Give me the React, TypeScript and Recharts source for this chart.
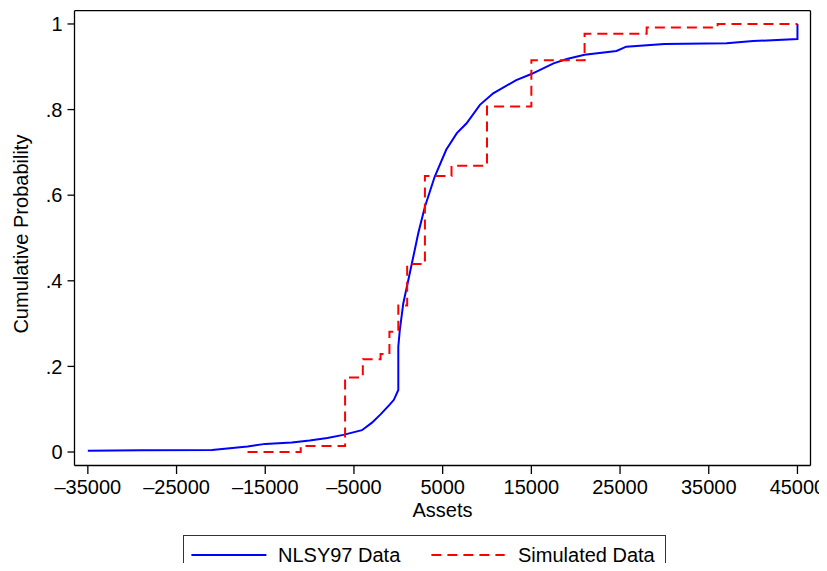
import React from 'react';
import { LineChart, Line, XAxis, YAxis, Legend, Label, ReferenceLine } from 'recharts';

// NLSY97 empirical CDF (assets, cumulative probability)
const nlsyAssets = [-35000, -29000, -21000, -19000, -17000, -15000, -12000, -10000, -8000, -6200, -4100, -3000, -2000, -1000, -500, 0, 0, 170, 560, 1130, 1690, 2250, 3000, 4100, 5400, 6600, 7700, 9200, 10700, 13300, 15000, 17500, 19000, 21000, 24600, 25700, 30000, 37000, 40000, 45000, 45000];
const nlsyProb = [0.003, 0.004, 0.005, 0.009, 0.013, 0.019, 0.022, 0.027, 0.033, 0.040, 0.051, 0.068, 0.088, 0.110, 0.122, 0.145, 0.246, 0.285, 0.347, 0.402, 0.456, 0.511, 0.573, 0.643, 0.706, 0.745, 0.768, 0.811, 0.838, 0.869, 0.883, 0.908, 0.918, 0.928, 0.937, 0.947, 0.953, 0.955, 0.960, 0.965, 1.0];

// Simulated step CDF
const simAssets = [-17000, -11000, -6000, -4000, -2000, -1000, 0, 1000, 3000, 6000, 10000, 15000, 21000, 28000, 36000, 45000];
const simProb = [0, 0.014, 0.174, 0.217, 0.229, 0.281, 0.342, 0.439, 0.645, 0.669, 0.807, 0.915, 0.977, 0.992, 1.0, 1.0];

const xTicks = [-35000, -25000, -15000, -5000, 5000, 15000, 25000, 35000, 45000];
const yTicks = [0, 0.2, 0.4, 0.6, 0.8, 1];
const xDomain = [-36505, 46471];
const yDomain = [-0.0315, 1.031];

const nlsyData = nlsyAssets.map((x, i) => ({ x, y: nlsyProb[i] }));
const simData = simAssets.map((x, i) => ({ x, y: simProb[i] }));

const fmtX = (v: number) => (v < 0 ? '\u2013' + Math.abs(v) : String(v));
const fmtY = (v: number) => (v === 0 ? '0' : v === 1 ? '1' : String(Math.round(v * 10) / 10).replace(/^0/, ''));

const FONT = 'Liberation Sans, Arial, Helvetica, sans-serif';

const LegendBox = () => (
  <svg width={483} height={36} style={{ display: 'block' }}>
    <rect x={0.5} y={0.5} width={482} height={60} fill="#fff" stroke="#333" strokeWidth={1} />
    <line x1={8.4} x2={83.4} y1={20} y2={20} stroke="#0000ff" strokeWidth={2} />
    <text x={95} y={27} fontSize={20} fill="#000" fontFamily={FONT}>NLSY97 Data</text>
    <line x1={248.4} x2={321.7} y1={20} y2={20} stroke="#ff0000" strokeWidth={2} strokeDasharray="10 6" />
    <text x={335} y={27} fontSize={20} fill="#000" fontFamily={FONT}>Simulated Data</text>
  </svg>
);

export default function App() {
  return (
    <div style={{ margin: -8, width: 827, height: 571, overflow: 'hidden', fontFamily: FONT, background: '#fff', position: 'relative' }}>
      <LineChart width={827} height={571} margin={{ top: 10.7, right: 16.5, left: 0, bottom: 0 }}>
        <XAxis
          xAxisId="main"
          type="number"
          dataKey="x"
          domain={xDomain}
          ticks={xTicks}
          tickFormatter={fmtX}
          interval={0}
          allowDataOverflow
          height={105.5}
          tickSize={8.5}
          tickMargin={6}
          stroke="#000"
          strokeWidth={1.3}
          tick={{ fontSize: 20, fill: '#000', fontFamily: FONT }}
          tickLine={{ stroke: '#000' }}
        >
          <Label value="Assets" position="insideBottom" offset={54} style={{ fontSize: 20, fill: '#000', fontFamily: FONT }} />
        </XAxis>
        <YAxis
          yAxisId="main"
          type="number"
          domain={yDomain}
          ticks={yTicks}
          tickFormatter={fmtY}
          interval={0}
          allowDataOverflow
          width={74.5}
          tickSize={7}
          tickMargin={5}
          stroke="#000"
          strokeWidth={1.3}
          tick={{ fontSize: 20, fill: '#000', fontFamily: FONT }}
          tickLine={{ stroke: '#000' }}
        >
          <Label
            content={({ viewBox }: any) => {
              const cx = 21;
              const cy = viewBox.y + viewBox.height / 2 - 4;
              return (
                <text x={cx} y={cy} transform={`rotate(-90 ${cx} ${cy})`} textAnchor="middle" dominantBaseline="central" fontSize={20} fill="#000" fontFamily={FONT}>
                  Cumulative Probability
                </text>
              );
            }}
          />
        </YAxis>
        <ReferenceLine xAxisId="main" yAxisId="main" y={yDomain[1]} stroke="#000" strokeWidth={1.3} ifOverflow="visible" />
        <ReferenceLine xAxisId="main" yAxisId="main" x={xDomain[1]} stroke="#000" strokeWidth={1.3} ifOverflow="visible" />
        <Line
          xAxisId="main"
          yAxisId="main"
          data={nlsyData}
          dataKey="y"
          type="linear"
          stroke="#0000ff"
          strokeWidth={2}
          dot={false}
          activeDot={false}
          isAnimationActive={false}
          name="NLSY97 Data"
        />
        <Line
          xAxisId="main"
          yAxisId="main"
          data={simData}
          dataKey="y"
          type="stepAfter"
          stroke="#ff0000"
          strokeWidth={2}
          strokeDasharray="10 6"
          dot={false}
          activeDot={false}
          isAnimationActive={false}
          name="Simulated Data"
        />
        <Legend
          layout="horizontal"
          verticalAlign="middle"
          align="center"
          content={() => <LegendBox />}
          wrapperStyle={{ position: 'absolute', left: 183.3, top: 535, width: 483, height: 36 }}
        />
      </LineChart>
    </div>
  );
}
